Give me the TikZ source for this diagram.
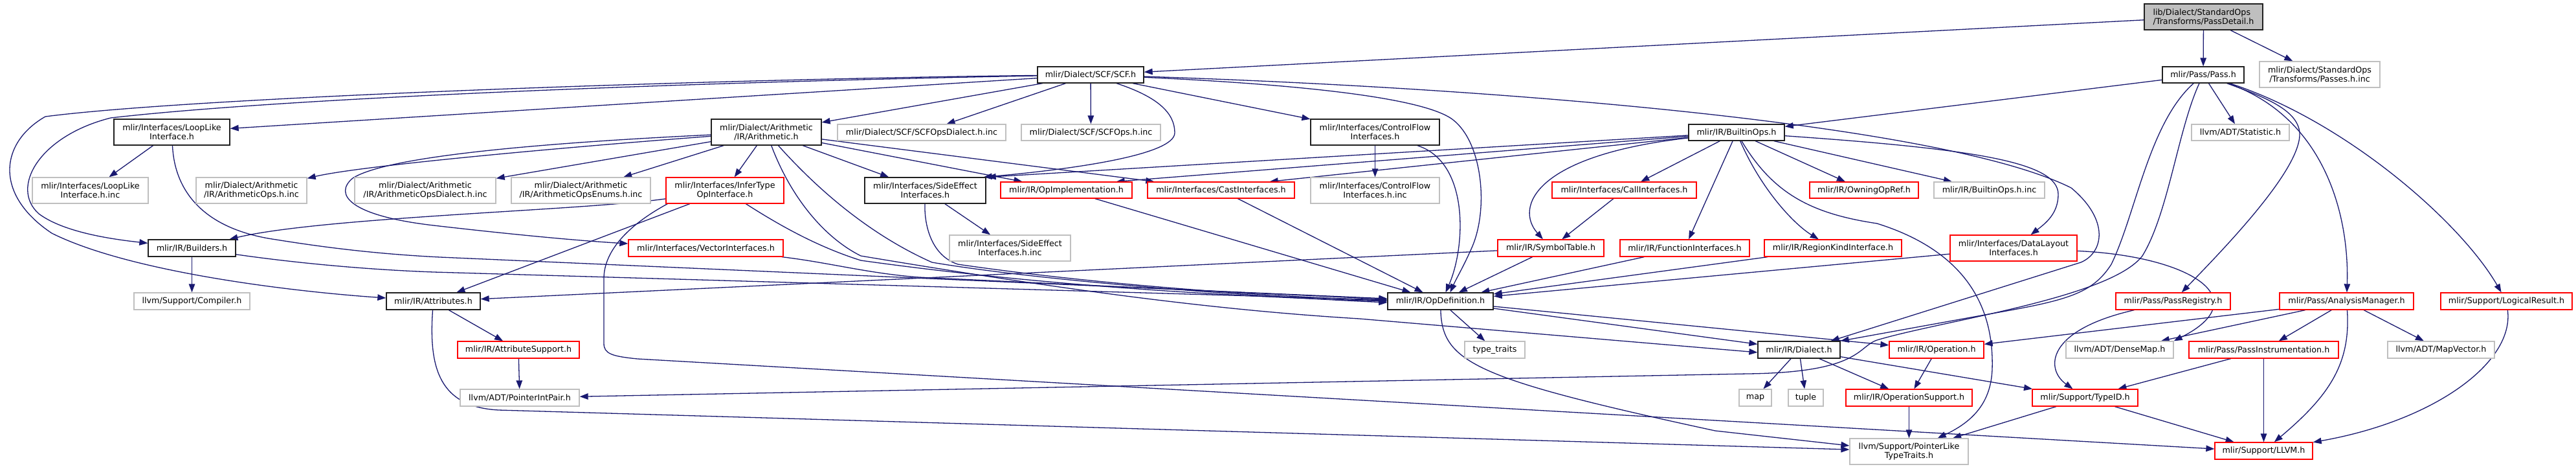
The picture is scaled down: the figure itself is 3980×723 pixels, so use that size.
\documentclass[tikz,border=0pt]{standalone}
\usepackage{fontspec}
\setmainfont{DejaVu Sans}
\usetikzlibrary{arrows.meta,calc}
\definecolor{edgecol}{HTML}{191970}
\definecolor{lgray}{HTML}{BFBFBF}
\definecolor{nred}{HTML}{FF0000}
\definecolor{nblk}{HTML}{202020}
\pgfdeclarelayer{bg}
\pgfsetlayers{bg,main}
\begin{document}
\begin{tikzpicture}[x=1pt,y=-1pt,
  every node/.style={font=\fontsize{12.7pt}{14pt}\selectfont, inner sep=0pt, align=center, fill=white},
  nb/.style={draw=nblk, line width=1.3pt},
  nr/.style={draw=nred, line width=1.3pt},
  ng/.style={draw=lgray, line width=1.3pt},
  dep/.style={draw=edgecol, line width=1.3pt, -{Triangle[length=13pt,width=9.5pt]}}]
\useasboundingbox (0,0) rectangle (3980,723);

% ---------------- nodes ----------------
\node[nb, fill=lgray, minimum width=183pt, minimum height=40pt, align=left] (root) at (3404.5,26) {lib/Dialect/StandardOps\\/Transforms/PassDetail.h};
\node[nb, minimum width=126pt, minimum height=25pt] (pass) at (3404,115.5) {mlir/Pass/Pass.h};
\node[ng, minimum width=186pt, minimum height=40pt] (passesinc) at (3584,115) {mlir/Dialect/StandardOps\\/Transforms/Passes.h.inc};
\node[ng, minimum width=151pt, minimum height=25pt] (stat) at (3461.5,204.5) {llvm/ADT/Statistic.h};
\node[nb, minimum width=164pt, minimum height=25pt] (scf) at (1685,115.5) {mlir/Dialect/SCF/SCF.h};
\node[ng, minimum width=260pt, minimum height=25pt] (scfdial) at (1424,204.5) {mlir/Dialect/SCF/SCFOpsDialect.h.inc};
\node[ng, minimum width=215pt, minimum height=25pt] (scfops) at (1685.5,204.5) {mlir/Dialect/SCF/SCFOps.h.inc};
\node[nb, minimum width=170pt, minimum height=40pt] (arith) at (1184,204) {mlir/Dialect/Arithmetic\\/IR/Arithmetic.h};
\node[nb, minimum width=179pt, minimum height=40pt] (loop) at (265.5,204) {mlir/Interfaces/LoopLike\\Interface.h};
\node[ng, minimum width=179pt, minimum height=40pt] (loopinc) at (139.5,294) {mlir/Interfaces/LoopLike\\Interface.h.inc};
\node[ng, minimum width=171pt, minimum height=40pt] (arops) at (388.5,294) {mlir/Dialect/Arithmetic\\/IR/ArithmeticOps.h.inc};
\node[ng, minimum width=218pt, minimum height=40pt] (ardial) at (657,294) {mlir/Dialect/Arithmetic\\/IR/ArithmeticOpsDialect.h.inc};
\node[ng, minimum width=215pt, minimum height=40pt] (arenum) at (897.5,294) {mlir/Dialect/Arithmetic\\/IR/ArithmeticOpsEnums.h.inc};
\node[nr, minimum width=182pt, minimum height=40pt] (infer) at (1120,294) {mlir/Interfaces/InferType\\OpInterface.h};
\node[nb, minimum width=187pt, minimum height=40pt] (side) at (1429.5,294) {mlir/Interfaces/SideEffect\\Interfaces.h};
\node[nr, minimum width=203pt, minimum height=25pt] (opimpl) at (1647.5,293.5) {mlir/IR/OpImplementation.h};
\node[nr, minimum width=227pt, minimum height=25pt] (cast) at (1886.5,293.5) {mlir/Interfaces/CastInterfaces.h};
\node[nb, minimum width=199pt, minimum height=40pt] (cf) at (2124.5,204) {mlir/Interfaces/ControlFlow\\Interfaces.h};
\node[ng, minimum width=199pt, minimum height=40pt] (cfinc) at (2124.5,294) {mlir/Interfaces/ControlFlow\\Interfaces.h.inc};
\node[nr, minimum width=223pt, minimum height=25pt] (call) at (2509.5,293.5) {mlir/Interfaces/CallInterfaces.h};
\node[nb, minimum width=148pt, minimum height=25pt] (builtin) at (2683,204.5) {mlir/IR/BuiltinOps.h};
\node[nr, minimum width=168pt, minimum height=25pt] (owning) at (2880,293.5) {mlir/IR/OwningOpRef.h};
\node[ng, minimum width=171pt, minimum height=25pt] (builtininc) at (3073.5,293.5) {mlir/IR/BuiltinOps.h.inc};
\node[nr, minimum width=196pt, minimum height=40pt] (datalayout) at (3111,383) {mlir/Interfaces/DataLayout\\Interfaces.h};
\node[nb, minimum width=135pt, minimum height=26pt] (builders) at (296.5,383) {mlir/IR/Builders.h};
\node[ng, minimum width=179pt, minimum height=26pt] (compiler) at (296.5,465) {llvm/Support/Compiler.h};
\node[nb, minimum width=145pt, minimum height=26pt] (attrs) at (669.5,465) {mlir/IR/Attributes.h};
\node[nr, minimum width=239pt, minimum height=26pt] (vector) at (1090.5,383) {mlir/Interfaces/VectorInterfaces.h};
\node[nr, minimum width=188pt, minimum height=26pt] (attrsup) at (801,540) {mlir/IR/AttributeSupport.h};
\node[ng, minimum width=184pt, minimum height=26pt] (pip) at (803,614) {llvm/ADT/PointerIntPair.h};
\node[ng, minimum width=187pt, minimum height=40pt] (sideinc) at (1560.5,383) {mlir/Interfaces/SideEffect\\Interfaces.h.inc};
\node[nr, minimum width=164pt, minimum height=26pt] (symtab) at (2396,383) {mlir/IR/SymbolTable.h};
\node[nr, minimum width=200pt, minimum height=26pt] (funcif) at (2603,383) {mlir/IR/FunctionInterfaces.h};
\node[nb, minimum width=163pt, minimum height=26pt] (opdef) at (2225.5,465) {mlir/IR/OpDefinition.h};
\node[ng, minimum width=93pt, minimum height=26pt] (typetraits) at (2309.5,540) {type\_traits};
\node[nr, minimum width=212pt, minimum height=26pt] (region) at (2832,383) {mlir/IR/RegionKindInterface.h};
\node[nb, minimum width=127pt, minimum height=26pt] (dialect) at (2779.5,540) {mlir/IR/Dialect.h};
\node[nr, minimum width=146pt, minimum height=26pt] (operation) at (2992,540) {mlir/IR/Operation.h};
\node[ng, minimum width=166pt, minimum height=26pt] (densemap) at (3275,540) {llvm/ADT/DenseMap.h};
\node[ng, minimum width=50pt, minimum height=26pt] (map) at (2712,614) {map};
\node[ng, minimum width=54pt, minimum height=26pt] (tuple) at (2790,614) {tuple};
\node[nr, minimum width=195pt, minimum height=26pt] (opsup) at (2949.5,614) {mlir/IR/OperationSupport.h};
\node[nr, minimum width=163pt, minimum height=26pt] (typeid) at (3221.5,614) {mlir/Support/TypeID.h};
\node[ng, minimum width=183pt, minimum height=40pt] (plt) at (2949.5,697) {llvm/Support/PointerLike\\TypeTraits.h};
\node[nr, minimum width=177pt, minimum height=26pt] (passreg) at (3357.5,465) {mlir/Pass/PassRegistry.h};
\node[nr, minimum width=207pt, minimum height=26pt] (am) at (3625.5,465) {mlir/Pass/AnalysisManager.h};
\node[nr, minimum width=203pt, minimum height=26pt] (logical) at (3872.5,465) {mlir/Support/LogicalResult.h};
\node[nr, minimum width=231pt, minimum height=26pt] (passinst) at (3497.5,540) {mlir/Pass/PassInstrumentation.h};
\node[ng, minimum width=165pt, minimum height=26pt] (mapvec) at (3771.5,540) {llvm/ADT/MapVector.h};
\node[nr, minimum width=151pt, minimum height=26pt] (llvm) at (3497.5,696) {mlir/Support/LLVM.h};

% ---------------- edges ----------------
\begin{pgfonlayer}{bg}
\fill[white] (0,0) rectangle (3980,723);
% root
\draw[dep] (root) -- (scf);
\draw[dep] (root) -- (pass);
\draw[dep] (root) -- (passesinc);
% Pass.h
\draw[dep] (pass) -- (stat);
\draw[dep] (pass) -- (builtin);
\draw[dep] (pass) .. controls (3500,150) and (3550,170) .. (3553,205) .. controls (3556,260) and (3440,380) .. (passreg);
\draw[dep] (pass) .. controls (3590,180) and (3630,330) .. (am);
\draw[dep] (pass) .. controls (3620,185) and (3800,340) .. (logical);
\draw[dep] (pass) .. controls (3320,190) and (3300,330) .. (3262,408) .. controls (3235,450) and (3200,462) .. (3100,480) -- (dialect.north east);
\draw[dep] (pass) .. controls (3365,200) and (3350,330) .. (3310,395) .. controls (3260,460) and (3000,495) .. (2900,525) .. controls (2870,535) and (2875,575) .. (2700,577) -- (pip);
% SCF.h
\draw[dep] (scf) .. controls (1100,122) and (300,150) .. (70,180) .. controls (0,220) and (-10,300) .. (80,360) .. controls (200,420) and (450,450) .. (attrs);
\draw[dep] (scf) .. controls (1100,126) and (450,150) .. (171,182) .. controls (60,210) and (15,290) .. (60,330) .. controls (100,360) and (180,370) .. (builders);
\draw[dep] (scf) -- (loop);
\draw[dep] (scf) -- (arith);
\draw[dep] (scf) -- (scfdial);
\draw[dep] (scf) -- (scfops);
\draw[dep] (scf) .. controls (1790,150) and (1815,175) .. (1815,205) .. controls (1815,240) and (1650,262) .. ($(side.north east)+(-4,0)$);
\draw[dep] (scf) -- (cf);
\draw[dep] (scf) .. controls (2300,135) and (3000,190) .. (3200,290) .. controls (3260,340) and (3250,390) .. (3215,405) -- ($(dialect.north east)+(-15,0)$);
\draw[dep] (scf) .. controls (2000,130) and (2200,150) .. (2245,185) .. controls (2290,220) and (2300,320) .. (2275,380) .. controls (2262,410) and (2250,430) .. ($(opdef.north)+(15,0)$);
% LoopLike
\draw[dep] (loop) -- (loopinc);
\draw[dep] (loop) .. controls (270,300) and (320,355) .. (427,370) .. controls (520,385) and (600,393) .. (680,397) -- ($(opdef.west)+(0,-4)$);
% Builders
\draw[dep] (builders) -- (compiler);
\draw[dep] (builders) .. controls (450,405) and (560,416) .. (670,420) -- ($(opdef.west)+(0,-2)$);
% Arithmetic
\draw[dep] (arith) .. controls (900,225) and (560,255) .. ($(arops.north east)+(0,2)$);
\draw[dep] (arith) -- (ardial);
\draw[dep] (arith) -- (arenum);
\draw[dep] (arith) -- (infer);
\draw[dep] (arith) -- (side);
\draw[dep] (arith) -- (opimpl);
\draw[dep] (arith) -- (cast);
\draw[dep] (arith) .. controls (850,220) and (600,240) .. (545,275) .. controls (515,300) and (540,333) .. (670,348) .. controls (800,363) and (900,372) .. (vector);
\draw[dep] (arith) .. controls (1270,300) and (1350,365) .. (1440,405) .. controls (1600,432) and (1900,456) .. ($(opdef.west)+(0,2)$);
\draw[dep] (arith) .. controls (1220,300) and (1270,365) .. (1330,395) .. controls (1600,440) and (1850,477) .. (2100,492) -- ($(dialect.west)+(0,4)$);
% InferTypeOpInterface
\draw[dep] (infer) .. controls (900,325) and (500,335) .. (builders);
\draw[dep] (infer) -- (attrs);
\draw[dep] ($(infer.south west)+(3,0)$) .. controls (975,345) and (933,385) .. (933,430) -- (933,530) .. controls (933,546) and (945,550) .. (985,554) -- ($(llvm.west)+(0,-3)$);
\draw[dep] (infer) .. controls (1200,345) and (1260,380) .. (1330,402) .. controls (1600,440) and (1900,458) .. (opdef.west);
% SideEffect
\draw[dep] (side) -- (sideinc);
\draw[dep] (side) .. controls (1428,350) and (1440,395) .. (1480,408) .. controls (1700,440) and (1950,457) .. ($(opdef.west)+(0,-1)$);
% OpImplementation, Cast, ControlFlow
\draw[dep] (opimpl) -- (opdef);
\draw[dep] (cast) -- (opdef);
\draw[dep] (cf) -- (cfinc);
\draw[dep] (cf) .. controls (2270,250) and (2265,380) .. ($(opdef.north)+(8,0)$);
% BuiltinOps
\draw[dep] (builtin) -- ($(side.north east)+(2,0)$);
\draw[dep] (builtin) -- ($(opimpl.north east)+(-25,0)$);
\draw[dep] (builtin) -- ($(cast.north east)+(-39,0)$);
\draw[dep] (builtin) .. controls (2370,240) and (2340,320) .. (symtab);
\draw[dep] (builtin) -- (call);
\draw[dep] (builtin) -- (funcif);
\draw[dep] (builtin) .. controls (2720,290) and (2770,345) .. (region);
\draw[dep] (builtin) .. controls (2740,300) and (2800,330) .. (2900,345) .. controls (3060,395) and (3080,500) .. (3078,570) .. controls (3076,620) and (3050,650) .. (plt);
\draw[dep] (builtin) -- (owning);
\draw[dep] (builtin) -- (builtininc);
\draw[dep] (builtin) .. controls (3050,230) and (3180,250) .. (3180,300) .. controls (3180,330) and (3160,345) .. (datalayout);
% Call, SymbolTable, FunctionInterfaces, RegionKind, DataLayout, Vector
\draw[dep] (call) -- (symtab);
\draw[dep] (symtab) -- (opdef);
\draw[dep] (symtab) -- (attrs);
\draw[dep] (funcif) -- (opdef);
\draw[dep] (region) -- (opdef);
\draw[dep] (datalayout) -- (opdef);
\draw[dep] (datalayout) .. controls (3380,395) and (3490,460) .. (densemap.north east);
\draw[dep] (vector) .. controls (1280,405) and (1340,422) .. (1420,428) -- ($(opdef.west)+(0,-3)$);
% Attributes, AttributeSupport
\draw[dep] (attrs) -- (attrsup);
\draw[dep] (attrs) .. controls (662,570) and (680,628) .. (770,633) -- ($(plt.west)+(0,-3)$);
\draw[dep] (attrsup) -- (pip);
% OpDefinition
\draw[dep] (opdef) -- (typetraits);
\draw[dep] (opdef) -- (operation);
\draw[dep] (opdef) -- (dialect);
\draw[dep] (opdef) .. controls (2228,560) and (2280,585) .. (2650,665) -- ($(plt.west)+(0,-9)$);
% Dialect, Operation, OperationSupport, TypeID
\draw[dep] (dialect) -- (map);
\draw[dep] (dialect) -- (tuple);
\draw[dep] (dialect) -- (opsup);
\draw[dep] (dialect) -- (typeid);
\draw[dep] (operation) -- (opsup);
\draw[dep] (opsup) -- (plt);
\draw[dep] (typeid) -- (plt);
\draw[dep] (typeid) -- (llvm);
% Pass subsystem
\draw[dep] ($(passreg.south west)+(29,0)$) .. controls (3160,510) and (3160,570) .. (typeid);
\draw[dep] (am) -- (operation);
\draw[dep] (am) -- (densemap);
\draw[dep] (am) -- (passinst);
\draw[dep] (am) .. controls (3632,560) and (3600,610) .. (llvm);
\draw[dep] (am) -- (mapvec);
\draw[dep] (passinst) -- (typeid);
\draw[dep] (passinst) -- (llvm);
\draw[dep] (logical) .. controls (3885,560) and (3760,650) .. (llvm);
\end{pgfonlayer}
\end{tikzpicture}
\end{document}
